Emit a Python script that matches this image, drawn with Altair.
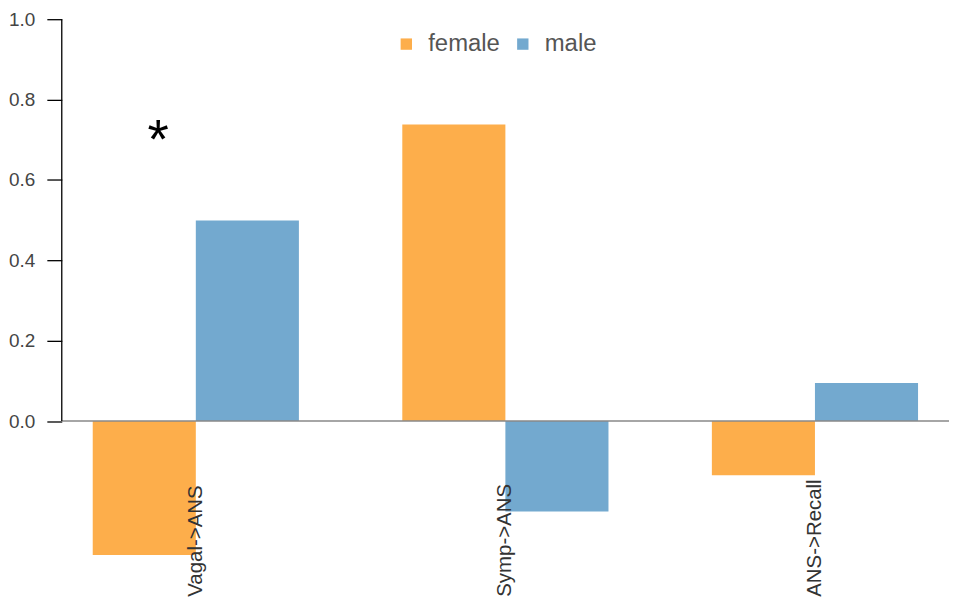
import altair as alt
import pandas as pd

categories = ["Vagal->ANS", "Symp->ANS", "ANS->Recall"]
female = [-0.333, 0.738, -0.135]
male = [0.499, -0.225, 0.095]
groups = ["female", "male"]
colors = ["#FDAE4B", "#73A9CF"]
y_ticks = [0.0, 0.2, 0.4, 0.6, 0.8, 1.0]
y_min = -0.437
star_cat = "Vagal->ANS"
star_y = 0.70

rows = []
for c, f, m in zip(categories, female, male):
    rows.append({"cat": c, "sex": "female", "value": f})
    rows.append({"cat": c, "sex": "male", "value": m})
df = pd.DataFrame(rows)

xscale = alt.Scale(domain=categories, paddingInner=0.334, paddingOuter=0.1)
yscale = alt.Scale(domain=[y_min, 1.0], nice=False, zero=False)
offscale = alt.Scale(domain=groups, paddingInner=0, paddingOuter=0)

bars = alt.Chart(df).mark_bar().encode(
    x=alt.X("cat:N", scale=xscale, axis=None, sort=categories),
    xOffset=alt.XOffset("sex:N", scale=offscale),
    y=alt.Y("value:Q", scale=yscale, title=None,
            axis=alt.Axis(values=y_ticks, format=".1f", domain=False, grid=False,
                          tickSize=15, tickColor="black", tickWidth=1.3,
                          labelFontSize=19, labelColor="#444", labelPadding=12)),
    color=alt.Color("sex:N", scale=alt.Scale(domain=groups, range=colors),
                    legend=alt.Legend(orient="none", legendX=334, legendY=13, direction="horizontal",
                                      title=None, symbolType="square", symbolSize=130,
                                      symbolStrokeWidth=0, labelFontSize=24, labelColor="#555",
                                      labelOffset=10, columnPadding=10, symbolOpacity=1)),
)

axis_line = alt.Chart(pd.DataFrame({"a": [0.0], "b": [1.0]})).mark_rule(color="black", strokeWidth=1.3).encode(
    x=alt.value(0), y=alt.Y("a:Q", scale=yscale), y2="b:Q"
)

zero_line = alt.Chart(pd.DataFrame({"z": [0.0]})).mark_rule(color="#888", strokeWidth=1.5).encode(
    y=alt.Y("z:Q", scale=yscale)
)

labels_df = pd.DataFrame({"cat": categories, "y": [y_min] * len(categories)})
xlabels = alt.Chart(labels_df).mark_text(angle=270, align="left", baseline="middle",
                                         fontSize=20.5, color="#333").encode(
    x=alt.X("cat:N", scale=xscale, sort=categories, axis=None),
    y=alt.Y("y:Q", scale=yscale),
    text="cat:N",
)

star_df = pd.DataFrame({"cat": [star_cat], "sex": ["female"], "y": [star_y], "t": ["*"]})
star = alt.Chart(star_df).mark_text(fontSize=55, color="black", baseline="alphabetic", dx=14, dy=18.5).encode(
    x=alt.X("cat:N", scale=xscale, sort=categories, axis=None),
    xOffset=alt.XOffset("sex:N", scale=offscale),
    y=alt.Y("y:Q", scale=yscale),
    text="t:N",
)

chart = alt.layer(bars, zero_line, axis_line, xlabels, star).properties(
    width=891, height=580,
    autosize=alt.AutoSizeParams(type="none"),
    padding={"left": 54, "top": 10, "right": 0, "bottom": 0},
).configure(font="Liberation Sans", view=alt.ViewConfig(strokeWidth=0))

chart.save("out.html", embed_options={"renderer": "svg", "actions": False})
